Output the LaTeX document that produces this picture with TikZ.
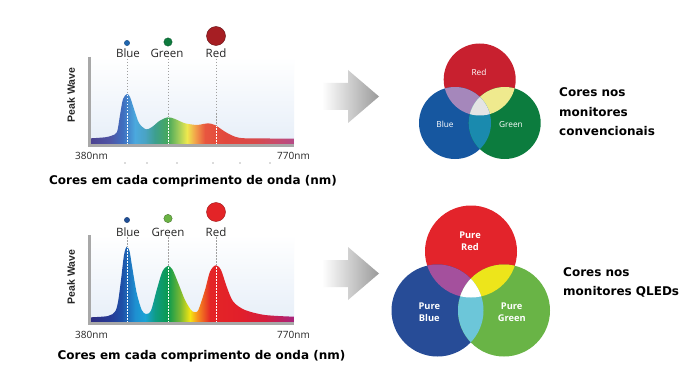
\documentclass[tikz,border=0pt]{standalone}
\usepackage{fontspec}
\setmainfont{DejaVu Sans}
\newfontfamily\osans{Open Sans}
\newfontfamily\libsans{Liberation Sans}
\usetikzlibrary{shadings}
% top spectrum colours
\definecolor{sa1}{HTML}{4C4391}\definecolor{sa2}{HTML}{4F55A5}\definecolor{sa3}{HTML}{3F6FC0}
\definecolor{sa4}{HTML}{4BA9DE}\definecolor{sa5}{HTML}{4AA3C4}\definecolor{sa6}{HTML}{3D9F8E}
\definecolor{sa7}{HTML}{47A85A}\definecolor{sa8}{HTML}{9CCB5A}\definecolor{sa9}{HTML}{EEE84E}
\definecolor{sa10}{HTML}{F2A34A}\definecolor{sa11}{HTML}{E8563F}\definecolor{sa12}{HTML}{E2483D}
\definecolor{sa13}{HTML}{D84A4A}\definecolor{sa14}{HTML}{C94B6A}\definecolor{sa15}{HTML}{B54B88}
% bottom spectrum colours
\definecolor{sb1}{HTML}{2D2C82}\definecolor{sb2}{HTML}{263B96}\definecolor{sb3}{HTML}{1E50A8}
\definecolor{sb4}{HTML}{1E8FD0}\definecolor{sb5}{HTML}{1AA3D6}\definecolor{sb6}{HTML}{0F9C86}
\definecolor{sb7}{HTML}{0B9A4E}\definecolor{sb8}{HTML}{78B833}\definecolor{sb9}{HTML}{F4E611}
\definecolor{sb10}{HTML}{F7941D}\definecolor{sb11}{HTML}{E42527}\definecolor{sb12}{HTML}{E21F2A}
\definecolor{sb13}{HTML}{D51D3D}\definecolor{sb14}{HTML}{A7237E}
\pgfdeclarehorizontalshading{specA}{100bp}{color(0bp)=(sa1); color(25bp)=(sa1); color(29.68bp)=(sa2);
 color(32.88bp)=(sa3); color(35.84bp)=(sa4); color(38.3bp)=(sa5); color(40.76bp)=(sa6);
 color(43.97bp)=(sa7); color(46.43bp)=(sa8); color(48.64bp)=(sa9); color(50.62bp)=(sa10);
 color(53.08bp)=(sa11); color(58bp)=(sa12); color(65.39bp)=(sa13); color(70.32bp)=(sa14);
 color(75bp)=(sa15); color(100bp)=(sa15)}
\pgfdeclarehorizontalshading{specB}{100bp}{color(0bp)=(sb1); color(25bp)=(sb1); color(29.68bp)=(sb2);
 color(32.64bp)=(sb3); color(35.84bp)=(sb4); color(38.3bp)=(sb5); color(40.76bp)=(sb6);
 color(43.97bp)=(sb7); color(46.92bp)=(sb8); color(49.38bp)=(sb9); color(51.11bp)=(sb10);
 color(54.31bp)=(sb11); color(61.7bp)=(sb12); color(67.86bp)=(sb13);
 color(75bp)=(sb14); color(100bp)=(sb14)}
% venn colours
\definecolor{vR}{HTML}{C8202F}\definecolor{vB}{HTML}{1657A0}\definecolor{vG}{HTML}{0C7C3E}
\definecolor{vRB}{HTML}{A587BB}\definecolor{vRG}{HTML}{EFEA8E}\definecolor{vBG}{HTML}{1A8AAE}
\definecolor{vRGB}{HTML}{E4E4E4}
\definecolor{wR}{HTML}{E3242B}\definecolor{wB}{HTML}{274C97}\definecolor{wG}{HTML}{69B446}
\definecolor{wRB}{HTML}{A4509D}\definecolor{wRG}{HTML}{EDE51B}\definecolor{wBG}{HTML}{6CC6D9}
\definecolor{axisgray}{HTML}{A8A8A8}
\definecolor{bgblue}{HTML}{E6EEF8}
\definecolor{dashgray}{HTML}{A0A0A0}
\definecolor{arrowgray}{HTML}{9A9A9A}
\definecolor{dotA}{HTML}{2067B0}\definecolor{dotB}{HTML}{0F7A3E}\definecolor{dotC}{HTML}{A61E23}
\definecolor{dotD}{HTML}{1F4E96}\definecolor{dotE}{HTML}{6AB344}\definecolor{dotF}{HTML}{E32427}
\tikzset{
  caption/.style={font=\bfseries\fontsize{12}{14}\selectfont, text=black, inner sep=0pt},
  sidetext/.style={font=\bfseries\fontsize{12}{19.5}\selectfont, align=left, anchor=west, inner sep=0pt},
  bandlabel/.style={font=\osans\fontsize{11.5}{13}\selectfont, text=black!85, inner sep=0pt},
  nmlabel/.style={font=\osans\fontsize{10}{12}\selectfont, text=black!85, inner sep=0pt},
  peaklabel/.style={font=\libsans\bfseries\fontsize{10.5}{12}\selectfont, text=black!85, rotate=90, inner sep=0pt},
  vennA/.style={font=\osans\fontsize{8.3}{10}\selectfont, text=white, inner sep=0pt},
  vennB/.style={font=\osans\bfseries\fontsize{9.3}{11.7}\selectfont, text=white, align=center, inner sep=0pt},
  guide/.style={dashgray, line width=0.6pt, dash pattern=on 1.5pt off 1.5pt},
  guidew/.style={white, line width=0.6pt, dash pattern=on 1.5pt off 1.5pt},
  axisbar/.style={axisgray, line width=2.7pt},
  bigarrow/.style={left color=white, right color=arrowgray, draw=none},
}
\begin{document}
\begin{tikzpicture}[x=1pt,y=-1pt]
\useasboundingbox (0,0) rectangle (698,385);
\fill[white] (0,0) rectangle (698,385);

%================ TOP CHART =================
\shade[top color=white, bottom color=bgblue] (91,57) rectangle (294,144.3);
\draw[guide] (127,59) -- (127,144);
\draw[guide] (168,59) -- (168,144);
\draw[guide] (216,59) -- (216,144);
\begin{scope}
 \clip plot[smooth, tension=0.5] coordinates {(91,138.3) (105,137.3) (112,135.5) (117,132) (120,115) (123,99) (127,94) (130,97) (134,109) (139,123) (146,129.3) (152,127) (160,120.5) (168,117.3) (175,119) (185,123.3) (197,125) (203,124) (208,123.3) (215,125) (225,131.7) (235,136.7) (245,138.3) (270,138.5) (294,138.5)} -- (294,144.3) -- (91,144.3) -- cycle;
 \shade[shading=specA] (91,80) rectangle (294,150);
 \draw[guidew] (127,59) -- (127,144);
 \draw[guidew] (168,59) -- (168,144);
 \draw[guidew] (216,59) -- (216,144);
\end{scope}
\draw[axisbar] (89.7,57) -- (89.7,145.5) -- (294,145.5);
\node[peaklabel] (pk1) at (71,95) {Peak Wave};
\fill[dotA, draw=dotA!70!black, line width=0.3pt] (127,43) circle[radius=2.7pt];
\fill[dotB, draw=dotB!70!black, line width=0.3pt] (168,42) circle[radius=4.2pt];
\fill[dotC, draw=dotC!60!black, line width=0.4pt] (216,36) circle[radius=9.5pt];
\node[bandlabel] (b1) at (128,53) {Blue};
\node[bandlabel] (g1) at (167,53) {Green};
\node[bandlabel] (r1) at (216,53) {Red};
\node[nmlabel] (n1a) at (91.5,156) {380nm};
\node[nmlabel] (n1b) at (293.5,156) {770nm};
\foreach \xx in {125,147,177,213,240,270} \fill[black!60] (\xx,163) circle[radius=0.6pt];
\node[caption] (cap1) at (193,181) {Cores em cada comprimento de onda (nm)};

%================ BOTTOM CHART =================
\shade[top color=white, bottom color=bgblue] (91,235) rectangle (294,322.5);
\draw[guide] (127,237) -- (127,322);
\draw[guide] (168,237) -- (168,322);
\draw[guide] (216,237) -- (216,322);
\begin{scope}
 \clip plot[smooth, tension=0.5] coordinates {(91,317.3) (108,316) (115,311.7) (118,302) (121,280) (124,255) (126.7,246.7) (129.5,251) (132,266) (136.7,293) (141.7,310) (146,314) (151,310.5) (156.7,290) (162.3,271.7) (167.7,266) (172.3,269.3) (178.3,283.3) (185,300) (191,310) (194.3,312) (198.3,310) (205,290) (210,271.7) (215.7,265.3) (221,270) (226.7,286.7) (233.3,301.7) (245,310) (265,315) (294,316.7)} -- (294,322.5) -- (91,322.5) -- cycle;
 \shade[shading=specB] (91,240) rectangle (294,330);
 \draw[guidew] (127,237) -- (127,322);
 \draw[guidew] (168,237) -- (168,322);
 \draw[guidew] (216,237) -- (216,322);
\end{scope}
\draw[axisbar] (89.7,235) -- (89.7,323.7) -- (294,323.7);
\node[peaklabel] (pk2) at (71,277) {Peak Wave};
\fill[dotD, draw=dotD!70!black, line width=0.3pt] (127,220) circle[radius=2.7pt];
\fill[dotE, draw=dotE!60!black, line width=0.3pt] (168,218.5) circle[radius=4.2pt];
\fill[dotF, draw=dotF!70!black, line width=0.4pt] (216,212) circle[radius=9.5pt];
\node[bandlabel] (b2) at (128,232) {Blue};
\node[bandlabel] (g2) at (168,232) {Green};
\node[bandlabel] (r2) at (216,232) {Red};
\node[nmlabel] (n2a) at (91.5,335) {380nm};
\node[nmlabel] (n2b) at (293.5,335) {770nm};
\node[caption] (cap2) at (201.5,356) {Cores em cada comprimento de onda (nm)};

%================ ARROWS =================
\shade[bigarrow] (322,83) -- (348,83) -- (348,70) -- (379,96.5) -- (348,123) -- (348,110) -- (322,110) -- cycle;
\shade[bigarrow] (322,260) -- (348,260) -- (348,247) -- (379,273.5) -- (348,300) -- (348,287) -- (322,287) -- cycle;

%================ TOP VENN =================
\coordinate (vr) at (479.7,79.5);
\coordinate (vb) at (455,123);
\coordinate (vg) at (504.7,123);
\fill[vR] (vr) circle[radius=36pt];
\fill[vB] (vb) circle[radius=36pt];
\fill[vG] (vg) circle[radius=36pt];
\begin{scope}\clip (vr) circle[radius=36pt]; \fill[vRB] (vb) circle[radius=36pt]; \fill[vRG] (vg) circle[radius=36pt];\end{scope}
\begin{scope}\clip (vb) circle[radius=36pt]; \fill[vBG] (vg) circle[radius=36pt];
  \clip (vg) circle[radius=36pt]; \fill[vRGB] (vr) circle[radius=36pt];\end{scope}
\node[vennA] (lr1) at (479,72.3) {Red};
\node[vennA] (lb1) at (445,124.3) {Blue};
\node[vennA] (lg1) at (511,124.3) {Green};
\node[sidetext] (t1) at (559,112) {Cores nos\\monitores\\convencionais};

%================ BOTTOM VENN =================
\coordinate (wr) at (471,251.5);
\coordinate (wb) at (437.5,310.5);
\coordinate (wg) at (504,310.5);
\fill[wR] (wr) circle[radius=46pt];
\fill[wB] (wb) circle[radius=46pt];
\fill[wG] (wg) circle[radius=46pt];
\begin{scope}\clip (wr) circle[radius=46pt]; \fill[wRB] (wb) circle[radius=46pt]; \fill[wRG] (wg) circle[radius=46pt];\end{scope}
\begin{scope}\clip (wb) circle[radius=46pt]; \fill[wBG] (wg) circle[radius=46pt];
  \clip (wg) circle[radius=46pt]; \fill[white] (wr) circle[radius=46pt];\end{scope}
\node[vennB] (lr2) at (470,241) {Pure\\Red};
\node[vennB] (lb2) at (429.3,312.5) {Pure\\Blue};
\node[vennB] (lg2) at (511.7,312.5) {Pure\\Green};
\node[sidetext] (t2) at (563,282.5) {Cores nos\\monitores QLEDs};
\end{tikzpicture}
\end{document}
